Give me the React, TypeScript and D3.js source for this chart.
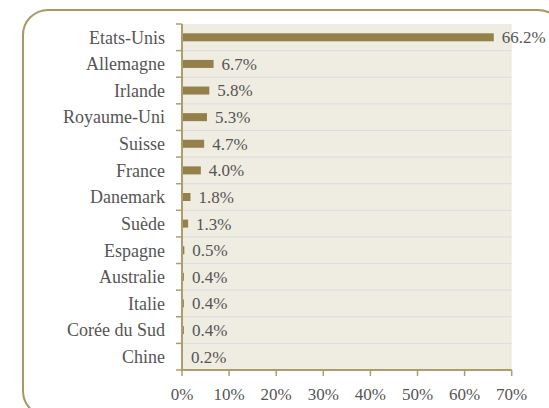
import React from "react";
import * as d3 from "d3";

const countries = ["Etats-Unis","Allemagne","Irlande","Royaume-Uni","Suisse","France","Danemark","Suède","Espagne","Australie","Italie","Corée du Sud","Chine"];
const shares = [66.2,6.7,5.8,5.3,4.7,4.0,1.8,1.3,0.5,0.4,0.4,0.4,0.2];
const xTicks = [0,10,20,30,40,50,60,70];

const W = 549, H = 408;
const left = 182, right = 511.7, top = 24, bottom = 370;
const font = "'Liberation Serif', serif";
const fs = 17;
const textColor = "#555555";
const axisColor = "#ad9c6c";

export default function App() {
  const x = d3.scaleLinear().domain([0, 70]).range([left, right]);
  const y = d3.scaleBand().domain(countries).range([top, bottom]);
  const bw = y.bandwidth();
  const boundaries = d3.range(countries.length + 1).map(i => top + i * bw);
  return (
    <svg width={W} height={H} style={{ position: "fixed", left: 0, top: 0, background: "#fff" }}>
      <rect x={23} y={10} width={540} height={406} rx={25} ry={25} fill="#fff" stroke="#a99866" strokeWidth={2} />
      <rect x={left} y={top} width={right - left} height={bottom - top} fill="#efece2" />
      {boundaries.slice(1, -1).map((b, i) => (
        <line key={"g" + i} x1={left} x2={right} y1={b} y2={b} stroke="#dcdbe0" strokeWidth={1} />
      ))}
      {countries.map((c, i) => (
        <g key={c}>
          <rect x={x(0)} y={y(c)! + bw / 2 - 4} width={x(shares[i]) - x(0)} height={8} fill="#94804a" />
          <text x={x(shares[i]) + 8} y={y(c)! + bw / 2} dy="0.35em" fontFamily={font} fontSize={fs} fill={textColor}>
            {shares[i].toFixed(1)}%
          </text>
          <text x={165} y={y(c)! + bw / 2} dy="0.35em" textAnchor="end" fontFamily={font} fontSize={18} fill={textColor}>
            {c}
          </text>
        </g>
      ))}
      {boundaries.map((b, i) => (
        <line key={"yt" + i} x1={left - 6} x2={left} y1={b} y2={b} stroke={axisColor} strokeWidth={1.5} />
      ))}
      <line x1={left} x2={left} y1={top} y2={bottom} stroke={axisColor} strokeWidth={2} />
      <line x1={left} x2={right} y1={bottom} y2={bottom} stroke={axisColor} strokeWidth={2} />
      {xTicks.map(t => (
        <g key={"xt" + t}>
          <line x1={x(t)} x2={x(t)} y1={bottom} y2={bottom + 6} stroke={axisColor} strokeWidth={1.5} />
          <text x={x(t)} y={394} dy="0.35em" textAnchor="middle" fontFamily={font} fontSize={fs} fill={textColor}>
            {t}%
          </text>
        </g>
      ))}
    </svg>
  );
}
